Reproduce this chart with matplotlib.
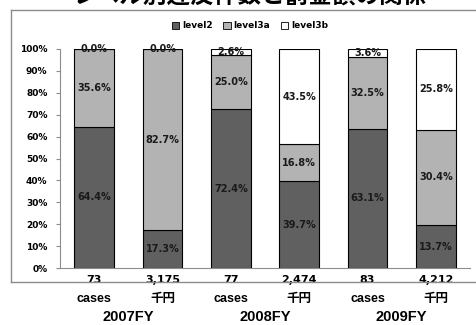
import matplotlib.pyplot as plt
from matplotlib.patches import Patch
from matplotlib.lines import Line2D

plt.rcParams['font.family'] = ['DejaVu Sans', 'Noto Sans CJK JP']

# data (labels are the raw values, bars are 100% stacked)
counts = ['73', '3,175', '77', '2,474', '83', '4,212']
units = ['cases', '千円', 'cases', '千円', 'cases', '千円']
years = ['2007FY', '2008FY', '2009FY']
level2 = [64.4, 17.3, 72.4, 39.7, 63.1, 13.7]
level3a = [35.6, 82.7, 25.0, 16.8, 32.5, 30.4]
level3b = [0.0, 0.0, 2.6, 43.5, 3.6, 25.8]
title = 'レベル別違反件数と罰金額の関係'

W, H = 476, 325
fig = plt.figure(figsize=(W / 100, H / 100), dpi=100)

# outer chart frame
for xs, ys in [([11, 11], [10, 282]), ([11, 476], [10, 10]), ([11, 476], [282, 282])]:
    fig.add_artist(Line2D([x / W for x in xs], [1 - y / H for y in ys],
                          color='#8c8c8c', lw=1))

fig.text(250 / W, 1 - 3 / H, title, ha='center', va='baseline', fontsize=17,
         fontweight='bold', family=['Noto Sans CJK JP'])

ax = fig.add_axes([60 / W, 1 - 268 / H, (470 - 60) / W, (268 - 49) / H])
x = list(range(len(level2)))
tot = [a + b + c for a, b, c in zip(level2, level3a, level3b)]
p2 = [100 * a / t for a, t in zip(level2, tot)]
p3a = [100 * a / t for a, t in zip(level3a, tot)]
p3b = [100 * a / t for a, t in zip(level3b, tot)]
bot3 = [a + b for a, b in zip(p2, p3a)]

bw = 0.58
ax.bar(x, p2, bw, color='#606060', edgecolor='black', lw=0.8)
ax.bar(x, p3a, bw, bottom=p2, color='#b3b3b3', edgecolor='black', lw=0.8)
ax.bar(x, p3b, bw, bottom=bot3, color='white', edgecolor='black', lw=0.8)

for i in x:
    segs = [(level2[i], 0, p2[i]), (level3a[i], p2[i], p3a[i]), (level3b[i], bot3[i], p3b[i])]
    for val, bot, h in segs:
        ax.text(i, bot + h / 2, '%.1f%%' % val, ha='center', va='center',
                fontsize=7, fontweight='bold', color='#1a1a1a')

ax.set_xlim(-0.5, 5.5)
ax.set_ylim(0, 100)
ax.set_yticks(range(0, 101, 10))
ax.set_yticklabels(['%d%%' % v for v in range(0, 101, 10)], fontsize=6.5, fontweight='bold')
ax.tick_params(axis='y', length=3, color='#8c8c8c', pad=6)
ax.set_xticks([])
for s in ['top', 'right']:
    ax.spines[s].set_visible(False)
for s in ['left', 'bottom']:
    ax.spines[s].set_color('#8c8c8c')

for i in x:
    ax.annotate(counts[i], (i, 0), xytext=(0, -8.5), textcoords='offset points',
                ha='center', va='center', fontsize=8, fontweight='bold',
                family=['DejaVu Sans'])
    ax.annotate(units[i], (i, 0), xytext=(0, -22), textcoords='offset points',
                ha='center', va='center', fontsize=9, fontweight='bold',
                family=['Liberation Sans', 'Noto Sans CJK JP'])
for j, yr in enumerate(years):
    ax.annotate(yr, (2 * j + 0.5, 0), xytext=(0, -35), textcoords='offset points',
                ha='center', va='center', fontsize=10.5, fontweight='bold',
                family=['Liberation Sans'])

handles = [Patch(facecolor=c, edgecolor='black', lw=0.6) for c in ['#606060', '#b3b3b3', 'white']]
fig.legend(handles, ['level2', 'level3a', 'level3b'], loc='center',
           bbox_to_anchor=(250 / W, 1 - 26 / H), ncol=3, frameon=False,
           prop={'size': 6.5, 'weight': 'bold'}, handlelength=0.8, handleheight=0.8,
           handletextpad=0.3, columnspacing=1.2)

fig.savefig('out.png', dpi=100)
